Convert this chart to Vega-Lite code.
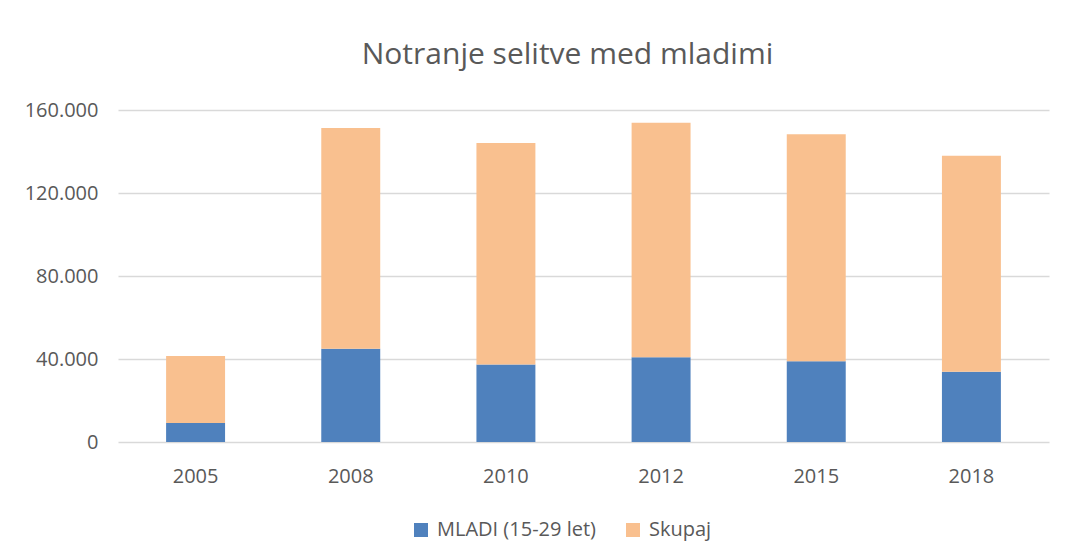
{
  "$schema": "https://vega.github.io/schema/vega-lite/v6.json",
  "width": 931,
  "height": 332,
  "autosize": {"type": "none"},
  "padding": {"left": 118, "top": 110, "right": 42, "bottom": 117},
  "background": "white",
  "title": {
    "text": "Notranje selitve med mladimi",
    "font": "Open Sans",
    "fontSize": 30,
    "fontWeight": "normal",
    "color": "#595959",
    "anchor": "middle",
    "dx": -16,
    "offset": 6,
    "baseline": "alphabetic"
  },
  "data": {
    "values": [
      {"leto": "2005", "serija": "MLADI (15-29 let)", "red": 1, "vrednost": 9200},
      {"leto": "2005", "serija": "Skupaj", "red": 2, "vrednost": 32300},
      {"leto": "2008", "serija": "MLADI (15-29 let)", "red": 1, "vrednost": 44900},
      {"leto": "2008", "serija": "Skupaj", "red": 2, "vrednost": 106400},
      {"leto": "2010", "serija": "MLADI (15-29 let)", "red": 1, "vrednost": 37300},
      {"leto": "2010", "serija": "Skupaj", "red": 2, "vrednost": 106800},
      {"leto": "2012", "serija": "MLADI (15-29 let)", "red": 1, "vrednost": 40900},
      {"leto": "2012", "serija": "Skupaj", "red": 2, "vrednost": 113000},
      {"leto": "2015", "serija": "MLADI (15-29 let)", "red": 1, "vrednost": 38900},
      {"leto": "2015", "serija": "Skupaj", "red": 2, "vrednost": 109400},
      {"leto": "2018", "serija": "MLADI (15-29 let)", "red": 1, "vrednost": 33800},
      {"leto": "2018", "serija": "Skupaj", "red": 2, "vrednost": 104200}
    ]
  },
  "mark": {"type": "bar"},
  "encoding": {
    "x": {
      "field": "leto",
      "type": "nominal",
      "scale": {"paddingInner": 0.62, "paddingOuter": 0.31},
      "axis": {
        "title": null,
        "labelAngle": 0,
        "labelFont": "Open Sans",
        "labelFontSize": 20,
        "labelColor": "#595959",
        "ticks": false,
        "domain": false,
        "labelPadding": 24
      }
    },
    "y": {
      "field": "vrednost",
      "type": "quantitative",
      "stack": "zero",
      "scale": {"domain": [0, 160000], "nice": false},
      "axis": {
        "title": null,
        "values": [0, 40000, 80000, 120000, 160000],
        "labelExpr": "replace(format(datum.value, ','), ',', '.')",
        "labelFont": "Open Sans",
        "labelFontSize": 20,
        "labelColor": "#595959",
        "labelPadding": 20,
        "ticks": false,
        "domain": false,
        "gridColor": "#D9D9D9",
        "gridWidth": 1.3
      }
    },
    "color": {
      "field": "serija",
      "type": "nominal",
      "scale": {"domain": ["MLADI (15-29 let)", "Skupaj"], "range": ["#4F81BD", "#F9C08F"]},
      "legend": {
        "title": null,
        "orient": "none",
        "direction": "horizontal",
        "legendX": 293,
        "legendY": 410,
        "symbolType": "square",
        "symbolSize": 196,
        "symbolStrokeWidth": 0,
        "labelFont": "Open Sans",
        "labelFontSize": 20,
        "labelColor": "#595959",
        "labelOffset": 6,
        "columnPadding": 27
      }
    },
    "order": {"field": "red", "type": "quantitative"}
  },
  "config": {
    "view": {"stroke": null}
  }
}
